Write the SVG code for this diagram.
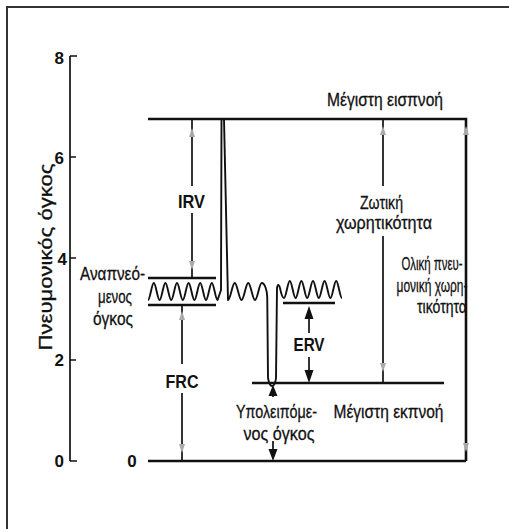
<svg xmlns="http://www.w3.org/2000/svg" width="509" height="529" viewBox="0 0 509 529">
<defs>
<style>
.t{font-family:"Liberation Sans Narrow","Liberation Sans",Arial,sans-serif;font-size:18.5px;fill:#111;stroke:#111;stroke-width:0.3;}
.b{font-family:"Liberation Sans Narrow","Liberation Sans",Arial,sans-serif;font-size:19px;font-weight:bold;fill:#111;}
.n{font-family:"Liberation Sans Narrow","Liberation Sans",Arial,sans-serif;font-size:17px;font-weight:bold;fill:#111;}
.h{stroke:#111;stroke-width:2.6;fill:none;}
.v{stroke:#111;stroke-width:1.7;fill:none;}
.w{stroke:#111;stroke-width:1.9;fill:none;stroke-linejoin:round;}
.ah{fill:#111;}
.g{fill:#aaa;}
</style>
</defs>
<rect width="509" height="529" fill="#fff"/>
<g id="frame"><path d="M7,529 V7 H509" stroke="#333" stroke-width="2" fill="none"/></g>

<g id="axis">
<path class="v" d="M70,56 V461"/>
<path class="v" d="M70,56 H77 M70,157 H76 M70,258 H76 M70,360 H76 M70,461 H77"/>
<text class="n" x="64" y="64" text-anchor="end">8</text>
<text class="n" x="64" y="164" text-anchor="end">6</text>
<text class="n" x="67" y="265" text-anchor="end">4</text>
<text class="n" x="64" y="366" text-anchor="end">2</text>
<text class="n" x="64" y="467" text-anchor="end">0</text>
<text class="n" x="132" y="467" text-anchor="middle">0</text>
<text class="t" transform="translate(52,257) rotate(-90)" text-anchor="middle" textLength="187" lengthAdjust="spacingAndGlyphs">Πνευμονικός όγκος</text>
</g>

<g id="levels">
<path class="h" d="M148,119 H466 V461 M148,461 H466"/>
<path class="h" d="M148,278 H216 M148,305 H216"/>
<path class="h" d="M283,303 H335"/>
<path class="h" d="M252,383 H444"/>
</g>

<g id="spirogram">
<path class="w" d="M148,300
c2.1,0 3.7,-17 5.8,-17 c2.1,0 3.7,17 5.8,17
c2.1,0 3.7,-17 5.8,-17 c2.1,0 3.7,17 5.8,17
c2.1,0 3.7,-17 5.8,-17 c2.1,0 3.7,17 5.8,17
c2.1,0 3.7,-17 5.8,-17 c2.1,0 3.7,17 5.8,17
c2.1,0 3.7,-17 5.8,-17 c2.1,0 3.7,17 5.8,17
c2.1,0 3.7,-17 5.8,-17 c2.1,0 3.7,17 5.8,17
L221,290 L221.5,119 L224,119 L228,300
c2.46,0 4.29,-17 6.75,-17 c2.46,0 4.29,17 6.75,17
c2.46,0 4.29,-17 6.75,-17 c2.46,0 4.29,17 6.75,17
c2.46,0 4.29,-17 6.75,-17
c3,0 5.5,8 5.5,14 L268,378 Q269.5,386 272,386 Q275,386 276,378 L277,288
Q278,282 280,288 Q282,298 284,298
c2.1,0 3.7,-17 5.8,-17 c2.1,0 3.7,17 5.8,17
c2.1,0 3.7,-17 5.8,-17 c2.1,0 3.7,17 5.8,17
c2.1,0 3.7,-17 5.8,-17 c2.1,0 3.7,17 5.8,17
c2.1,0 3.7,-17 5.8,-17 c2.1,0 3.7,17 5.8,17
c2.1,0 3.7,-17 5.8,-17 c2.1,0 3.7,17 5.8,17"/>
</g>

<g id="connectors">
<path class="v" d="M192,119 V186 M192,213 V278"/>
<path class="v" d="M182,305 V364 M182,393 V461"/>
<path class="v" d="M383,119 V186 M383,236 V383"/>
<path class="v" d="M466,119 V256 M466,316 V461"/>
<path class="v" d="M309,318 V333 M309,357 V373"/>
<path class="v" d="M273,393 V397 M273,441 V451"/>
<polygon class="ah" points="309,306 304.5,319 313.5,319"/>
<polygon class="ah" points="309,383 304.5,370 313.5,370"/>
<polygon class="ah" points="273,385 268.5,396 277.5,396"/>
<polygon class="ah" points="273,461 268.5,449 277.5,449"/>
<polygon class="g" points="192,128 189,137 195,137"/>
<polygon class="g" points="192,270 189,261 195,261"/>
<polygon class="g" points="383,126 380,135 386,135"/>
<polygon class="g" points="466,126 463,135 469,135"/>
<polygon class="g" points="182,311 179,320 185,320"/>
<polygon class="g" points="182,453 179,444 185,444"/>
<polygon class="g" points="383,372 380,363 386,363"/>
<polygon class="g" points="466,452 463,443 469,443"/>
</g>

<g id="labels">
<text class="t" x="385" y="106" text-anchor="middle" textLength="116" lengthAdjust="spacingAndGlyphs">Μέγιστη εισπνοή</text>
<text class="b" x="191.5" y="208" text-anchor="middle" textLength="27" lengthAdjust="spacingAndGlyphs">IRV</text>
<text class="t" x="381.5" y="209" text-anchor="middle" textLength="43" lengthAdjust="spacingAndGlyphs">Ζωτική</text>
<text class="t" x="384" y="229" text-anchor="middle" textLength="96" lengthAdjust="spacingAndGlyphs">χωρητικότητα</text>
<text class="t" x="432" y="270" text-anchor="middle" textLength="61" lengthAdjust="spacingAndGlyphs">Ολική πνευ-</text>
<text class="t" x="432" y="292" text-anchor="middle" textLength="71" lengthAdjust="spacingAndGlyphs">μονική χωρη-</text>
<text class="t" x="442" y="313" text-anchor="middle" textLength="50" lengthAdjust="spacingAndGlyphs">τικότητα</text>
<text class="t" x="112.5" y="280" text-anchor="middle" textLength="65" lengthAdjust="spacingAndGlyphs">Αναπνεό-</text>
<text class="t" x="115" y="303" text-anchor="middle" textLength="34" lengthAdjust="spacingAndGlyphs">μενος</text>
<text class="t" x="113" y="325" text-anchor="middle" textLength="40" lengthAdjust="spacingAndGlyphs">όγκος</text>
<text class="b" x="309" y="351" text-anchor="middle" textLength="31" lengthAdjust="spacingAndGlyphs">ERV</text>
<text class="b" x="182" y="388" text-anchor="middle" textLength="33" lengthAdjust="spacingAndGlyphs">FRC</text>
<text class="t" x="276.5" y="418" text-anchor="middle" textLength="81" lengthAdjust="spacingAndGlyphs">Υπολειπόμε-</text>
<text class="t" x="279" y="440" text-anchor="middle" textLength="71" lengthAdjust="spacingAndGlyphs">νος όγκος</text>
<text class="t" x="388.5" y="418" text-anchor="middle" textLength="110" lengthAdjust="spacingAndGlyphs">Μέγιστη εκπνοή</text>
</g>
</svg>
